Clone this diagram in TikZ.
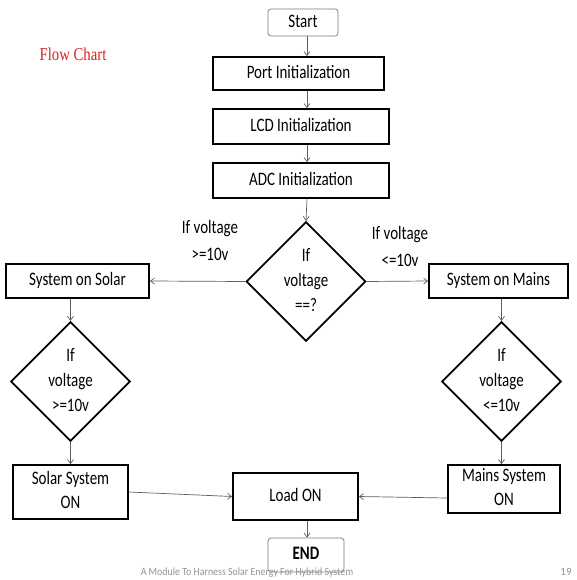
\documentclass[tikz,border=0pt]{standalone}
\usepackage{fontspec}
\setmainfont{Carlito}
\newfontfamily\titleserif{Liberation Serif}
\usepackage{graphicx}
\usetikzlibrary{shapes.geometric,arrows.meta,calc}
\newcommand{\sqz}[1]{\scalebox{0.79}[1]{\begin{tabular}{@{}c@{}}#1\end{tabular}}}
\definecolor{arrowgray}{RGB}{95,95,95}
\definecolor{titlered}{RGB}{215,35,35}
\definecolor{termgray}{RGB}{120,120,120}
\tikzset{
  box/.style={draw=black, line width=1.8pt, rectangle, inner sep=0pt,
    font=\fontsize{19}{24}\selectfont},
  term/.style={draw=termgray, line width=0.7pt, rounded corners=3pt, inner sep=0pt,
    font=\fontsize{19}{24}\selectfont},
  decision/.style={draw=black, line width=1.8pt, diamond, inner sep=0pt,
    font=\fontsize{19}{25}\selectfont},
  lbl/.style={inner sep=0pt, font=\fontsize{19}{27}\selectfont},
  arr/.style={draw=arrowgray, line width=0.7pt, -{Straight Barb[length=4pt,width=6pt]}},
  foot/.style={inner sep=0pt, text=black!42, font=\fontsize{11}{13}\selectfont}
}
\begin{document}
\begin{tikzpicture}[x=1pt,y=-1pt]
\useasboundingbox[fill=white] (0,0) rectangle (576,580);

\node[inner sep=0pt, text=titlered, font=\titleserif\fontsize{18}{20}\selectfont] (title) at (73,54) {\scalebox{0.82}[1]{Flow Chart}};

\node[term, minimum width=70pt, minimum height=27pt] (start) at (303,22.5) {\sqz{Start}};
\node[box, minimum width=171pt, minimum height=33pt] (port) at (298.5,73.5) {\sqz{Port Initialization}};
\node[box, minimum width=176pt, minimum height=35pt] (lcd) at (301,126.5) {\sqz{LCD Initialization}};
\node[box, minimum width=176pt, minimum height=35pt] (adc) at (301,180.5) {\sqz{ADC Initialization}};

\node[decision, minimum width=116pt, minimum height=113pt] (dmain) at (306,281.5) {\sqz{If\\voltage\\==?}};

\node[box, minimum width=143pt, minimum height=34pt] (solar) at (77.5,281) {\sqz{System on Solar}};
\node[box, minimum width=139pt, minimum height=34pt] (mains) at (498.5,281) {\sqz{System on Mains}};

\node[lbl] (lblleft) at (210,242) {\sqz{If voltage\\>=10v}};
\node[lbl] (lblright) at (400,248) {\sqz{If voltage\\<=10v}};

\node[decision, minimum width=115pt, minimum height=113pt] (dleft) at (70.5,381.5) {\sqz{If\\voltage\\>=10v}};
\node[decision, minimum width=117pt, minimum height=113pt] (dright) at (501.5,381.5) {\sqz{If\\voltage\\<=10v}};

\node[box, minimum width=115pt, minimum height=54pt] (solaron) at (70.5,492) {\sqz{Solar System\\ON}};
\node[box, minimum width=125pt, minimum height=47pt] (load) at (295.5,496.5) {\sqz{Load ON}};
\node[box, minimum width=112pt, minimum height=48pt] (mainson) at (504,489) {\sqz{Mains System\\ON}};

\node[term, minimum width=76pt, minimum height=34pt] (end) at (306,555) {\sqz{\bfseries END}};

\coordinate (ax) at (307,0);
\draw[arr] (start.south -| ax) -- (port.north -| ax);
\draw[arr] (port.south -| ax) -- (lcd.north -| ax);
\draw[arr] (lcd.south -| ax) -- (adc.north -| ax);
\draw[arr] (adc.south -| ax) -- (dmain.north);
\draw[arr] (dmain.west) -- (solar.east);
\draw[arr] (dmain.east) -- (mains.west);
\draw[arr] (solar.south -| dleft.north) -- (dleft.north);
\draw[arr] (mains.south -| dright.north) -- (dright.north);
\draw[arr] (dleft.south) -- (solaron.north -| dleft.south);
\draw[arr] (dright.south) -- (mainson.north -| dright.south);
\draw[arr] (solaron.east) -- (load.west);
\draw[arr] ($(mainson.west)+(0,9)$) -- (load.east);
\draw[arr] (load.south -| ax) -- (end.north -| ax);

\node[foot] (footer) at (247,573) {\scalebox{0.9}[1]{A Module To Harness Solar Energy For Hybrid System}};
\node[foot] (pagenum) at (566,572) {19};
\end{tikzpicture}
\end{document}
